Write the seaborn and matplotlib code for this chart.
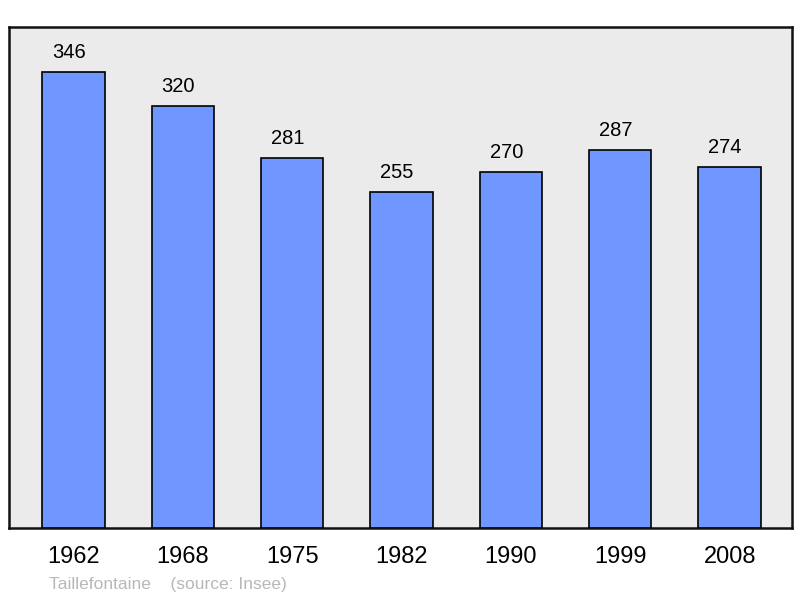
import matplotlib
matplotlib.use("Agg")
import matplotlib.pyplot as plt
import seaborn as sns
import pandas as pd

years = ["1962", "1968", "1975", "1982", "1990", "1999", "2008"]
population = [346, 320, 281, 255, 270, 287, 274]
commune = "Taillefontaine"
source = "(source: Insee)"

sns.set_theme(style="white")
plt.rcParams['font.family'] = ['Liberation Sans', 'DejaVu Sans']

df = pd.DataFrame({"year": years, "pop": population})

fig = plt.figure(figsize=(8, 5.98), dpi=100)
ax = fig.add_axes([0.01125, 0.117, 0.97875, 0.8378])
ax.set_facecolor("#ebebeb")

sns.barplot(data=df, x="year", y="pop", ax=ax, color="#7096ff", width=0.57,
            saturation=1, edgecolor="black", linewidth=1.2, zorder=3)

ax.set_ylim(0, 380)
ax.set_xlim(-0.59, 6.57)
ax.set_yticks([])
ax.set_xlabel("")
ax.set_ylabel("")
ax.tick_params(axis="x", length=0, labelsize=17, pad=13, colors="black")
for s in ax.spines.values():
    s.set_linewidth(1.8)
    s.set_color("#111111")

for i, v in enumerate(population):
    ax.annotate(str(v), (i, v), xytext=(-3.3, 7), textcoords="offset points",
                ha="center", va="bottom", fontsize=14.5, color="black")

fig.text(49/800, 1 - 584/598, commune + "    " + source, fontsize=12.5,
         color="#b8b8b8", ha="left", va="center")

fig.savefig("out.png", dpi=100, facecolor="white")
